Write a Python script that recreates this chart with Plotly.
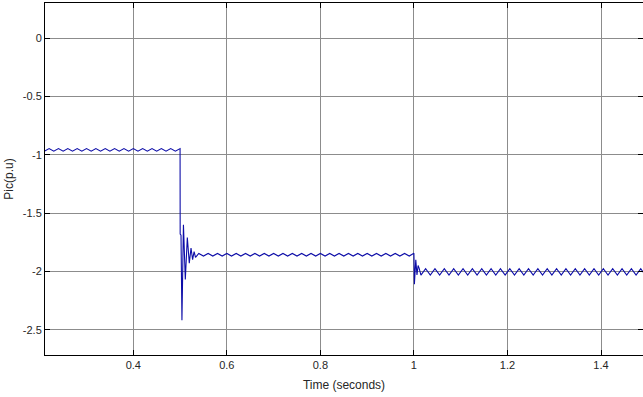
import numpy as np
import plotly.graph_objects as go

# ---------------- data ----------------
# steady segment 1: ripple peaks/troughs every 0.01 s starting at 0.21 s
seg1_start = 0.21
seg1_y = [-0.970, -0.948, -0.970, -0.948, -0.970, -0.948, -0.970, -0.948, -0.970, -0.948,
          -0.970, -0.948, -0.970, -0.948, -0.970, -0.948, -0.970, -0.948, -0.970, -0.948,
          -0.970, -0.948, -0.970, -0.948, -0.970, -0.948, -0.970, -0.948, -0.970]

# transient at t = 0.5 s
tr1_t = [0.5000, 0.5002, 0.5020, 0.5040, 0.5072, 0.5112, 0.5155, 0.5197, 0.5234, 0.5268, 0.5300, 0.5330]
tr1_y = [-0.948, -1.680, -1.690, -2.420, -1.600, -2.070, -1.710, -1.930, -1.800, -1.900, -1.830, -1.880]

# steady segment 2
seg2_start = 0.54
seg2_y = [-1.847, -1.869, -1.847, -1.869, -1.847, -1.869, -1.847, -1.869, -1.847, -1.869,
          -1.847, -1.869, -1.847, -1.869, -1.847, -1.869, -1.847, -1.869, -1.847, -1.869,
          -1.847, -1.869, -1.847, -1.869, -1.847, -1.869, -1.847, -1.869, -1.847, -1.869,
          -1.847, -1.869, -1.847, -1.869, -1.847, -1.869, -1.847, -1.869, -1.847, -1.869,
          -1.847, -1.869, -1.847, -1.869, -1.847, -1.869]

# transient at t = 1.0 s
tr2_t = [1.0000, 1.0010, 1.0040, 1.0065, 1.0090, 1.0112]
tr2_y = [-1.845, -2.110, -1.900, -2.030, -1.950, -1.975]

# steady segment 3
seg3_start = 1.015
seg3_y = [-2.032, -1.978, -2.032, -1.978, -2.032, -1.978, -2.032, -1.978, -2.032, -1.978,
          -2.032, -1.978, -2.032, -1.978, -2.032, -1.978, -2.032, -1.978, -2.032, -1.978,
          -2.032, -1.978, -2.032, -1.978, -2.032, -1.978, -2.032, -1.978, -2.032, -1.978,
          -2.032, -1.978, -2.032, -1.978, -2.032, -1.978, -2.032, -1.978, -2.032, -1.978,
          -2.032, -1.978, -2.032, -1.978, -2.032, -1.978, -2.032, -1.978, -2.032]

half_period = 0.01

x_ticks = [0.4, 0.6, 0.8, 1.0, 1.2, 1.4]
x_ticktext = ["0.4", "0.6", "0.8", "1", "1.2", "1.4"]
y_ticks = [0, -0.5, -1, -1.5, -2, -2.5]
y_ticktext = ["0", "-0.5", "-1", "-1.5", "-2", "-2.5"]

# ---------------- assemble ----------------
def seg_times(start, vals):
    return list(np.round(start + half_period * np.arange(len(vals)), 4))

t = seg_times(seg1_start, seg1_y) + tr1_t + seg_times(seg2_start, seg2_y) + tr2_t + seg_times(seg3_start, seg3_y)
y = seg1_y + tr1_y + seg2_y + tr2_y + seg3_y

FONT = "Liberation Sans, Arial, sans-serif"
GRID = "#8c8c8c"

fig = go.Figure()
fig.add_trace(go.Scatter(x=t, y=y, mode="lines",
                         line=dict(color="#0d0da8", width=1.1),
                         showlegend=False, hoverinfo="skip"))

fig.update_layout(
    width=643, height=397,
    margin=dict(l=45, r=0, t=3, b=42),
    paper_bgcolor="white", plot_bgcolor="white",
    font=dict(family=FONT, size=11, color="#262626"),
    xaxis=dict(range=[0.2112, 1.4898], tickvals=x_ticks, ticktext=x_ticktext,
               ticks="inside", ticklen=5, tickcolor="black", tickwidth=1,
               showline=True, linecolor="black", linewidth=1, mirror="ticks",
               showgrid=True, gridcolor=GRID, gridwidth=1, zeroline=False,
               tickfont=dict(family=FONT, size=11, color="#262626"),
               title=dict(text="Time (seconds)", font=dict(family=FONT, size=12, color="#262626"),
                          standoff=10)),
    yaxis=dict(range=[-2.717, 0.300], tickvals=y_ticks, ticktext=y_ticktext,
               ticks="inside", ticklen=5, tickcolor="black", tickwidth=1,
               showline=True, linecolor="black", linewidth=1, mirror=False,
               showgrid=True, gridcolor=GRID, gridwidth=1, zeroline=False,
               tickfont=dict(family=FONT, size=11, color="#262626"),
               title=dict(text="Pic(p.u)", font=dict(family=FONT, size=12, color="#262626"),
                          standoff=6)),
    yaxis2=dict(range=[-2.717, 0.300], tickvals=y_ticks, overlaying="y", side="right",
                ticks="inside", ticklen=5, tickcolor="black", tickwidth=1,
                showline=False, showgrid=False, zeroline=False, showticklabels=False),
)
fig.add_trace(go.Scatter(x=[None], y=[None], yaxis="y2", showlegend=False, hoverinfo="skip"))

fig.write_html("out.html",
               config={"displayModeBar": False},
               post_script="document.body.style.margin='0';document.body.style.padding='0';"
                           "document.body.style.overflow='hidden';")
